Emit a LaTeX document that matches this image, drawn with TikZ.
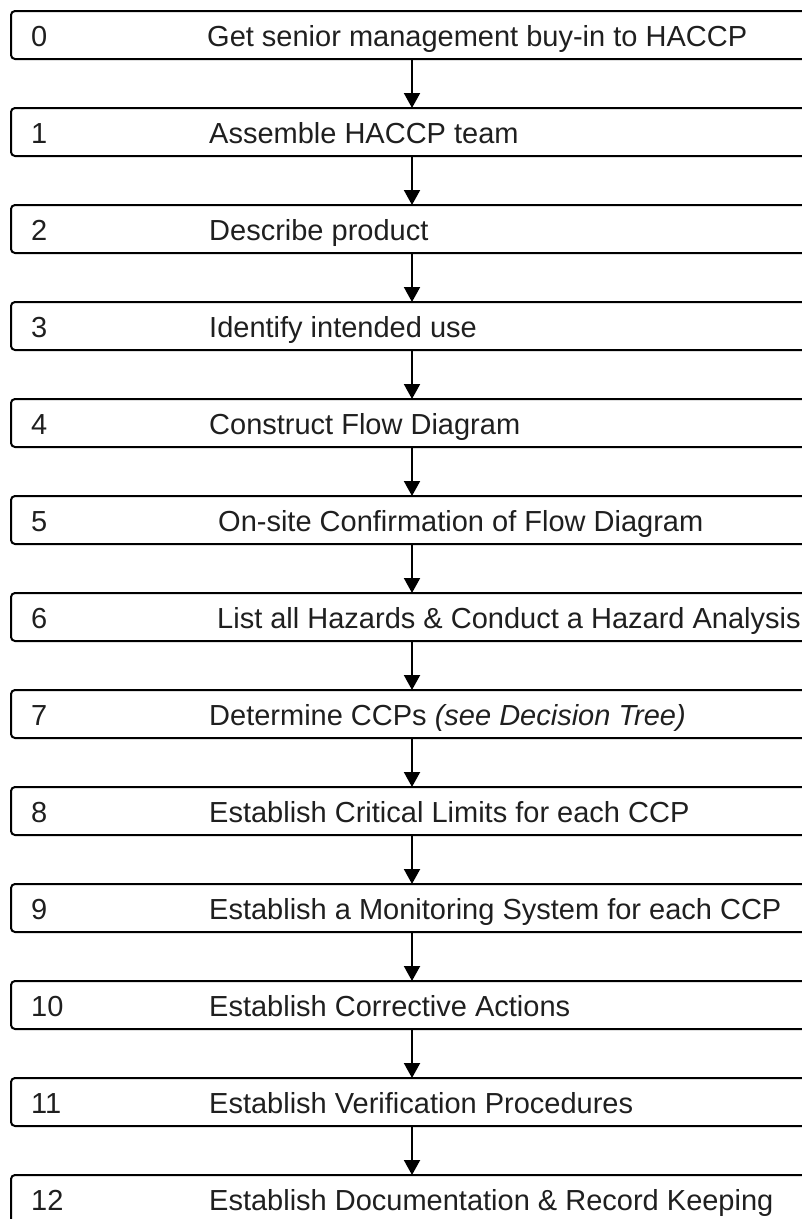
\documentclass[tikz,border=0pt]{standalone}
\usepackage{fontspec}
\setmainfont{Liberation Sans}
\usetikzlibrary{arrows.meta}
\begin{document}
\begin{tikzpicture}[x=1pt,y=1pt,
  stepbox/.style={draw=black, line width=2pt, rounded corners=4pt, minimum width=840pt, minimum height=48pt, inner sep=0pt, outer sep=0pt, anchor=north west},
  numtxt/.style={anchor=base west, inner sep=0pt, text=black!88, font=\fontsize{29}{34}\selectfont},
  labtxt/.style={anchor=base west, inner sep=0pt, text=black!88, font=\fontsize{29}{34}\selectfont},
  flow/.style={line width=2pt, -{Triangle[width=16pt,length=15pt]}}]
\useasboundingbox (0,0) rectangle (802,-1219);
\clip (0,0) rectangle (802,-1219);
\foreach \k/\lx/\txt in {
  0/207/{Get senior management buy-in to HACCP},
  1/209/{Assemble HACCP team},
  2/209/{Describe product},
  3/209/{Identify intended use},
  4/209/{Construct Flow Diagram},
  5/218/{On-site Confirmation of Flow Diagram},
  6/217/{List all Hazards \& Conduct a Hazard Analysis},
  7/209/{Determine CCPs \textit{(see Decision Tree)}},
  8/209/{Establish Critical Limits for each CCP},
  9/209/{Establish a Monitoring System for each CCP},
  10/209/{Establish Corrective Actions},
  11/209/{Establish Verification Procedures},
  12/209/{Establish Documentation \& Record Keeping}} {
  \pgfmathsetmacro{\top}{-(11+97*\k)}
  \node[stepbox] (b\k) at (11,\top) {};
  \node[numtxt] (n\k) at (31,\top-35.5) {\k};
  \node[labtxt] (l\k) at (\lx,\top-35.5) {\txt};
  \coordinate (bt\k) at (412,\top);
  \coordinate (bb\k) at (412,\top-48);
}
\foreach \k [evaluate=\k as \j using int(\k+1)] in {0,...,11} {
  \draw[flow] (bb\k) -- (bt\j);
}
\end{tikzpicture}
\end{document}
